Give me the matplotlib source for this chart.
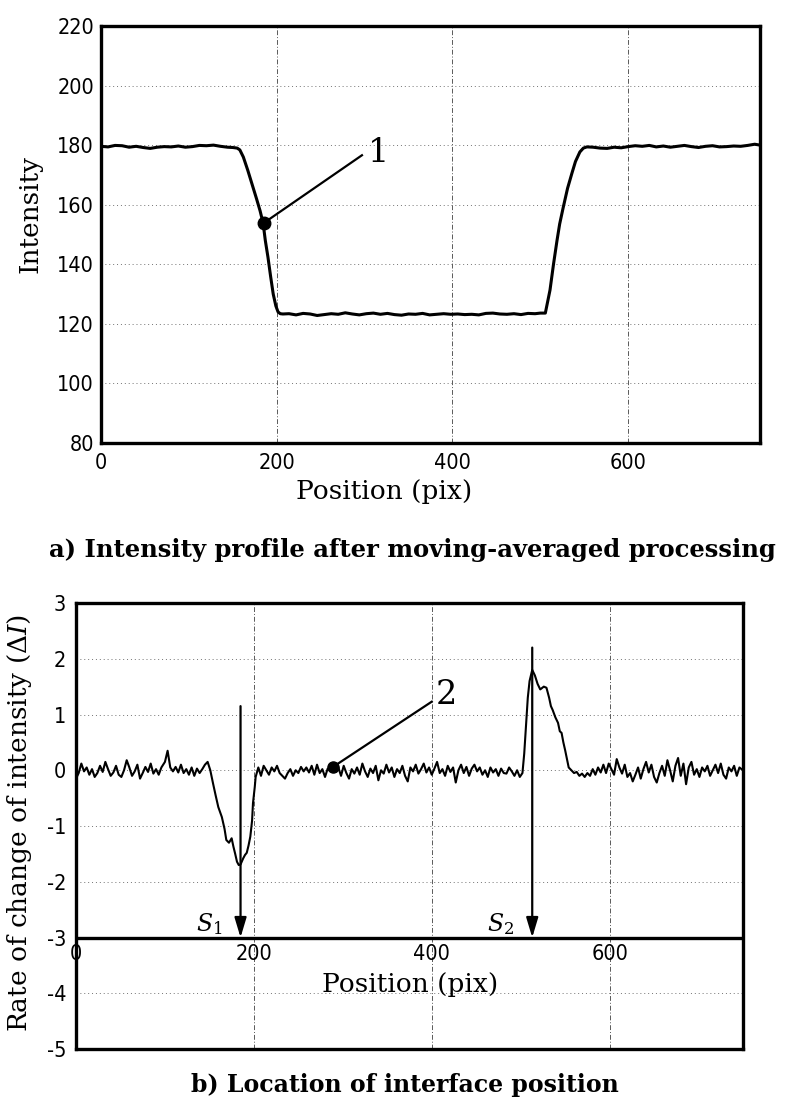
import matplotlib
matplotlib.use('Agg')
import matplotlib.pyplot as plt
from matplotlib import font_manager

plt.rcParams['axes.unicode_minus'] = False
plt.rcParams['mathtext.fontset'] = 'dejavuserif'

# intensity profile (moving-averaged)
prof_x = [0, 8, 16, 24, 32, 40, 48, 56, 64, 72, 80, 88, 96, 104, 112, 120, 128, 136, 144, 150,
          155, 158, 162, 167, 172, 177, 181, 184.5, 187, 190, 193, 196, 199, 201.5, 204, 207,
          214, 222, 230, 238, 246, 254, 262, 270, 278, 286, 294, 302, 310, 318, 326, 334, 342,
          350, 358, 366, 374, 382, 390, 398, 406, 414, 422, 430, 438, 446, 454, 462, 470, 478,
          486, 494, 500, 505.7,
          511, 515, 519, 522, 526, 531, 536, 540, 545, 549, 553,
          560, 568, 576, 584, 592, 600, 608, 616, 624, 632, 640, 648, 656, 664, 672, 680, 688,
          696, 704, 712, 720, 728, 736, 744, 750]
prof_i = [179.6, 179.4, 179.9, 179.8, 179.3, 179.6, 179.2, 178.9, 179.3, 179.5, 179.4, 179.7,
          179.3, 179.5, 179.9, 179.8, 180.0, 179.6, 179.3, 179.2,
          179.0, 178.4, 176.0, 171.6, 166.8, 162.0, 158.0, 153.8, 148.0, 142.4, 136.0, 130.0,
          126.0, 124.0, 123.4, 123.3,
          123.4, 123.0, 123.5, 123.3, 122.8, 123.1, 123.4, 123.2, 123.7, 123.3, 123.0, 123.4,
          123.6, 123.2, 123.5, 123.1, 122.9, 123.3, 123.2, 123.5, 123.0, 123.2, 123.4, 123.2,
          123.3, 123.1, 123.2, 123.0, 123.5, 123.6, 123.3, 123.2, 123.4, 123.1, 123.5, 123.4,
          123.6, 123.6,
          131.3, 140.0, 148.0, 153.5, 159.0, 165.5, 170.6, 174.5, 177.7, 179.0, 179.4,
          179.3, 179.0, 178.9, 179.3, 179.1, 179.5, 179.8, 179.6, 179.9, 179.4, 179.7, 179.3,
          179.6, 179.9, 179.5, 179.2, 179.6, 179.8, 179.4, 179.5, 179.7, 179.6, 179.9, 180.3,
          180.0]

# rate of change of intensity
rate_x = [0, 3, 6, 9, 12, 15, 18, 21, 24, 27, 30, 33, 36, 39, 42, 45, 48, 51, 54, 57, 60, 63,
          66, 69, 72, 75, 78, 81, 84, 87, 90, 93, 96, 100, 103, 106, 109, 112, 115, 118, 121,
          124, 127, 130, 133, 136, 139, 142, 145, 148, 151, 154, 157, 160, 164, 167, 169, 172,
          175, 177, 179, 181, 183, 185, 188, 190, 192, 194, 196, 198, 199, 201, 202, 205, 208,
          211, 214, 217, 220, 223, 226, 229, 232, 235, 238, 241, 244, 247, 250, 253, 256, 259,
          262, 265, 268, 271, 274, 277, 280, 283, 286, 289, 292, 295, 298, 301, 304, 307, 310,
          313, 316, 319, 322, 325, 328, 331, 334, 337, 340, 343, 346, 349, 352, 355, 358, 361,
          364, 367, 370, 373, 376, 379, 382, 385, 388, 391, 394, 397, 400, 403, 406, 409, 412,
          415, 418, 421, 424, 427, 430, 433, 436, 439, 442, 445, 448, 451, 454, 457, 460, 463,
          466, 469, 472, 475, 478, 481, 484, 487, 490, 493, 496, 499, 502, 504, 506, 508, 510,
          513, 516, 519, 522, 526, 529, 532, 534, 536, 539, 542, 544, 546, 548, 550, 552, 554,
          557, 560, 563, 566, 569, 572, 575, 578, 581, 584, 587, 590, 593, 596, 599, 602, 605,
          608, 611, 614, 617, 620, 623, 626, 629, 632, 635, 638, 641, 644, 647, 650, 653, 656,
          659, 662, 665, 668, 671, 674, 677, 680, 683, 686, 689, 692, 695, 698, 701, 704, 707,
          710, 713, 716, 719, 722, 725, 728, 731, 734, 737, 740, 743, 746, 750]
rate_d = [-0.15, -0.05, 0.12, -0.02, 0.05, -0.08, 0.02, -0.12, -0.05, 0.08, -0.03, 0.15, 0.02,
          -0.1, -0.04, 0.08, -0.08, -0.12, 0.0, 0.18, 0.05, -0.1, -0.02, 0.1, -0.15, -0.05,
          0.06, -0.03, 0.12, -0.06, 0.02, -0.08, 0.05, 0.15, 0.35, 0.05, -0.02, 0.06, -0.04,
          0.1, -0.05, 0.02, -0.08, 0.05, -0.1, 0.03, -0.05, 0.02, 0.1, 0.15, 0.0, -0.23, -0.45,
          -0.66, -0.84, -1.05, -1.25, -1.3, -1.22, -1.37, -1.5, -1.64, -1.7, -1.69, -1.58,
          -1.52, -1.48, -1.35, -1.19, -0.9, -0.59, -0.3, -0.12, 0.05, -0.1, 0.08, 0.0, -0.08,
          0.05, -0.02, 0.08, -0.05, -0.1, -0.15, -0.05, 0.02, -0.1, 0.0, -0.05, 0.06, -0.02,
          0.05, -0.04, 0.08, -0.08, 0.1, -0.05, 0.02, -0.12, 0.03, 0.0, 0.06, -0.03, 0.05,
          -0.1, 0.08, -0.05, -0.15, 0.02, -0.06, 0.05, -0.08, 0.12, -0.02, -0.12, 0.03, -0.05,
          0.08, -0.18, 0.0, -0.06, 0.1, -0.04, 0.05, -0.12, 0.02, -0.05, 0.08, -0.1, -0.2,
          0.05, -0.02, 0.1, -0.06, 0.02, 0.12, -0.04, 0.05, -0.08, 0.03, 0.15, -0.05, 0.02,
          -0.1, 0.08, -0.03, 0.05, -0.22, 0.0, 0.1, -0.05, 0.06, -0.1, 0.03, 0.1, -0.02, 0.05,
          -0.08, 0.0, -0.12, 0.05, -0.04, 0.02, -0.1, 0.03, -0.05, -0.06, 0.05, -0.02, -0.1,
          0.0, -0.12, -0.05, 0.3, 0.8, 1.3, 1.6, 1.8, 1.7, 1.55, 1.45, 1.5, 1.48, 1.3, 1.15,
          1.08, 0.95, 0.85, 0.7, 0.67, 0.5, 0.36, 0.2, 0.05, 0.0, -0.05, -0.03, -0.1, -0.06,
          -0.12, -0.05, -0.1, 0.02, -0.08, 0.05, -0.04, 0.1, -0.05, 0.12, 0.02, -0.08, 0.2,
          0.05, -0.06, 0.1, -0.12, -0.05, -0.2, -0.08, 0.05, -0.15, 0.02, 0.15, -0.04, 0.1,
          -0.12, -0.22, -0.05, 0.08, -0.1, 0.18, 0.0, -0.2, 0.08, 0.22, -0.1, 0.12, -0.25,
          0.05, 0.15, -0.08, 0.02, -0.12, 0.05, -0.02, 0.08, -0.1, 0.0, 0.1, -0.05, 0.12,
          -0.08, -0.15, 0.05, -0.02, 0.08, -0.1, 0.05, 0.0]

x_ticks = [0, 200, 400, 600]
i_ticks = [80, 100, 120, 140, 160, 180, 200, 220]
d_ticks = [3, 2, 1, 0, -1, -2, -3, -4, -5]

# marker 1 on profile, marker 2 on derivative
mark1 = (185, 153.8)
mark2 = (289, 0.06)
# interface positions S1, S2 and top of each arrow
s_pos = [185, 513]
s_top = [1.15, 2.2]
s_names = ['$S_1$', '$S_2$']


def first_font(names, default='DejaVu Sans'):
    have = {f.name for f in font_manager.fontManager.ttflist}
    for n in names:
        if n in have:
            return n
    return default


TICK_FONT = first_font(['Liberation Sans Narrow'])
tick_kw = dict(family=TICK_FONT, size=15.5, stretch='condensed')
lab_kw = dict(family='DejaVu Serif', size=19)
grid_h = dict(color='0.45', lw=0.7, ls=(0, (1, 3)))
grid_v = dict(color='0.35', lw=0.7, ls=(0, (5, 2, 1, 2)))

fig = plt.figure(figsize=(7.86, 11.06), dpi=100)

# ---- a) intensity profile
ax1 = fig.add_axes([0.1285, 0.5995, 0.8384, 0.377])
ax1.plot(prof_x, prof_i, color='black', lw=2.2, zorder=3)
ax1.set_xlim(0, 750)
ax1.set_ylim(80, 220)
ax1.set_xticks(x_ticks)
ax1.set_yticks(i_ticks)
for y in i_ticks[1:-1]:
    ax1.axhline(y, **grid_h, zorder=1)
for x in x_ticks[1:]:
    ax1.axvline(x, **grid_v, zorder=1)
ax1.tick_params(axis='y', length=0, pad=5)
ax1.tick_params(axis='x', length=0, pad=7)
for lab in ax1.get_xticklabels() + ax1.get_yticklabels():
    lab.set(**tick_kw)
for sp in ax1.spines.values():
    sp.set_linewidth(2.4)
ax1.plot(*mark1, 'o', color='black', ms=9, zorder=4)
ax1.plot([mark1[0], 297], [mark1[1], 176.6], color='black', lw=1.6, zorder=4)
ax1.text(304, 177.5, '1', family='DejaVu Serif', size=24, va='center', ha='left')
fig.text(384 / 786, 1 - 492 / 1106, 'Position (pix)', ha='center', va='center', **lab_kw)
fig.text(30 / 786, 1 - 214 / 1106, 'Intensity', rotation=90, ha='center', va='center', **lab_kw)

fig.text(0.525, 1 - 550 / 1106, 'a) Intensity profile after moving-averaged processing',
         family='DejaVu Serif', weight='bold', size=17.5, ha='center', va='center')

# ---- b) rate of change, interface location
ax2 = fig.add_axes([0.0967, 0.0515, 0.8486, 0.4033])
ax2.plot(rate_x, rate_d, color='black', lw=1.5, zorder=3)
ax2.set_xlim(0, 750)
ax2.set_ylim(-5, 3)
ax2.set_xticks([])
ax2.set_yticks(d_ticks)
for y in [2, 1, 0, -1, -2, -4]:
    ax2.axhline(y, **grid_h, zorder=1)
for x in x_ticks[1:]:
    ax2.axvline(x, **grid_v, zorder=1)
ax2.axhline(-3, color='black', lw=2.4, zorder=4)
ax2.tick_params(length=0, pad=7)
for lab in ax2.get_yticklabels():
    lab.set(**tick_kw)
for sp in ax2.spines.values():
    sp.set_linewidth(2.4)
for x in x_ticks:
    ax2.text(x, -3.12, str(x), ha='center', va='top', **tick_kw)
ax2.text(376, -3.85, 'Position (pix)', ha='center', va='center', **lab_kw)

for x, top, name in zip(s_pos, s_top, s_names):
    ax2.annotate('', xy=(x, -3), xytext=(x, top),
                 arrowprops=dict(arrowstyle='-|>,head_length=1.0,head_width=0.3', color='black',
                                 lw=1.6, mutation_scale=12, shrinkA=0, shrinkB=0), zorder=5)
    ax2.text(x - 20, -2.75, name, ha='right', va='center', family='DejaVu Serif', size=17)

ax2.plot(*mark2, 'o', color='black', ms=8, zorder=4)
ax2.plot([mark2[0], 400], [mark2[1], 1.23], color='black', lw=1.6, zorder=4)
ax2.text(405, 1.35, '2', family='DejaVu Serif', size=24, va='center', ha='left')
fig.text(20 / 786, 1 - 823 / 1106, 'Rate of change of intensity ($\\Delta I$)', rotation=90,
         ha='center', va='center', **lab_kw)

fig.text(0.515, 1 - 1085 / 1106, 'b) Location of interface position',
         family='DejaVu Serif', weight='bold', size=17, ha='center', va='center')

fig.savefig('out.png', dpi=100)
